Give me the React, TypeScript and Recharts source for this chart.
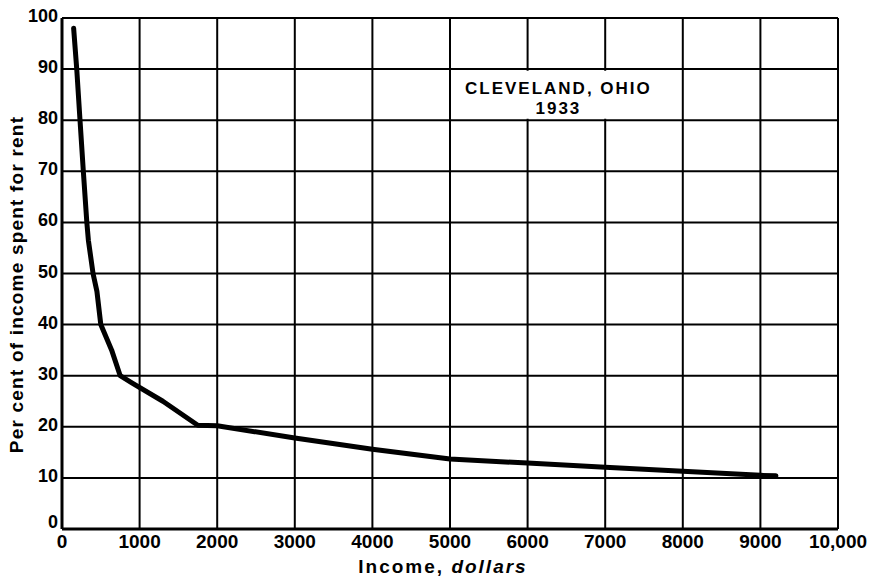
import React from "react";
import {
  LineChart,
  Line,
  XAxis,
  YAxis,
  CartesianGrid,
  ReferenceArea,
  Label,
} from "recharts";

// Cleveland, Ohio 1933 — share of income spent for rent
const incomes = [150, 190, 232, 275, 320, 340, 400, 450, 500, 640, 750, 900, 1300, 1750, 2000, 3000, 4000, 5000, 6000, 7000, 8000, 9000, 9200];
const rentPct = [98, 90, 80, 70, 60, 56.5, 50, 46.5, 40, 35, 30, 28.6, 25, 20.3, 20.2, 17.8, 15.6, 13.7, 12.9, 12.1, 11.3, 10.5, 10.4];

const xTicks = [0, 1000, 2000, 3000, 4000, 5000, 6000, 7000, 8000, 9000, 10000];
const xTickLabels = ["0", "1000", "2000", "3000", "4000", "5000", "6000", "7000", "8000", "9000", "10,000"];
const yTicks = [0, 10, 20, 30, 40, 50, 60, 70, 80, 90, 100];

const titleLines = ["CLEVELAND, OHIO", "1933"];

const FONT = '"Liberation Sans", Arial, sans-serif';

const data = incomes.map((inc, i) => ({ income: inc, pct: rentPct[i] }));

const fmtX = (v: number) => xTickLabels[xTicks.indexOf(v)] ?? String(v);

const YTick = ({ x, y, payload }: any) => (
  <text
    x={x}
    y={payload.value === 0 ? y - 7 : y - 2}
    textAnchor="end"
    dominantBaseline="central"
    fontFamily={FONT}
    fontWeight="bold"
    fontSize={18}
    fill="#000"
  >
    {payload.value}
  </text>
);

const renderTitle = ({ viewBox }: any) => {
  const cx = viewBox.x + viewBox.width / 2 - 8;
  return (
    <text textAnchor="middle" fontFamily={FONT} fontWeight="bold" fontSize={17} fill="#000" letterSpacing={2}>
      <tspan x={cx} y={viewBox.y + 23}>{titleLines[0]}</tspan>
      <tspan x={cx} y={viewBox.y + 43}>{titleLines[1]}</tspan>
    </text>
  );
};

export default function App() {
  return (
    <div style={{ position: "absolute", left: 0, top: 0, background: "#fff" }}>
      <LineChart
        width={872}
        height={577}
        data={data}
        margin={{ top: 18, right: 34, bottom: 0, left: 0 }}
      >
        <CartesianGrid stroke="#000" strokeWidth={2} strokeOpacity={1} />
        <XAxis
          dataKey="income"
          type="number"
          domain={[0, 10000]}
          ticks={xTicks}
          tickFormatter={fmtX}
          interval={0}
          height={48}
          axisLine={{ stroke: "#000", strokeWidth: 3 }}
          tickLine={false}
          tickSize={6}
          tickMargin={0}
          tick={{ fill: "#000", fontFamily: FONT, fontWeight: "bold", fontSize: 19 }}
        >
          <Label
            content={({ viewBox }: any) => (
              <text
                x={viewBox.x + viewBox.width / 2 - 7}
                y={viewBox.y + 44}
                textAnchor="middle"
                fontFamily={FONT}
                fontWeight="bold"
                fontSize={19}
                letterSpacing={2}
                fill="#000"
              >
                Income, <tspan fontStyle="italic">dollars</tspan>
              </text>
            )}
          />
        </XAxis>
        <YAxis
          type="number"
          domain={[0, 100]}
          ticks={yTicks}
          interval={0}
          width={62}
          axisLine={{ stroke: "#000", strokeWidth: 3 }}
          tickLine={false}
          tickSize={4}
          tickMargin={0}
          tick={<YTick />}
        >
          <Label
            content={({ viewBox }: any) => {
              const cx = 16;
              const cy = viewBox.y + viewBox.height / 2 + 11;
              return (
                <text
                  x={cx}
                  y={cy}
                  transform={`rotate(-90 ${cx} ${cy})`}
                  textAnchor="middle"
                  dominantBaseline="central"
                  fontFamily={FONT}
                  fontWeight="bold"
                  fontSize={19}
                  letterSpacing={1.2}
                  fill="#000"
                >
                  Per cent of income spent for rent
                </text>
              );
            }}
          />
        </YAxis>
        <ReferenceArea
          x1={5030}
          x2={7970}
          y1={80.3}
          y2={89.7}
          fill="#fff"
          fillOpacity={1}
          stroke="none"
          label={renderTitle}
        />
        <Line
          type="linear"
          dataKey="pct"
          stroke="#000"
          strokeWidth={5}
          strokeLinejoin="round"
          strokeLinecap="round"
          dot={false}
          activeDot={false}
          isAnimationActive={false}
        />
      </LineChart>
    </div>
  );
}
